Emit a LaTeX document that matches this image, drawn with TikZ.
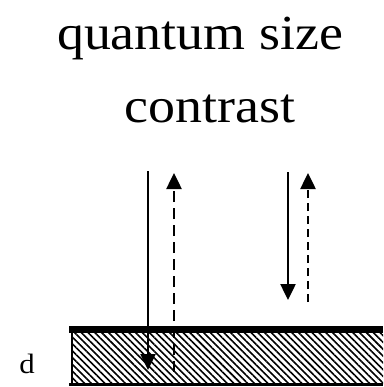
\documentclass[tikz,border=0pt]{standalone}
\usepackage{fontspec}
\setmainfont[FakeStretch=1.1]{Liberation Serif}
\usetikzlibrary{arrows.meta,patterns.meta}
\begin{document}
\begin{tikzpicture}[x=1pt,y=-1pt,
  title/.style={inner sep=0pt,anchor=base,font=\fontsize{49}{49}\selectfont},
  solidray/.style={line width=2.5pt,-{Triangle[length=16pt,width=15pt]}},
  dashray/.style={line width=2.5pt,dash pattern=on 11pt off 6pt,-{Triangle[length=16pt,width=15pt]}},
  dashrayb/.style={line width=2.5pt,dash pattern=on 8pt off 5pt,-{Triangle[length=16pt,width=15pt]}},
  ]
\useasboundingbox (0,0) rectangle (383,387);
\node[title] (t1) at (200,50) {quantum size};
\node[title] (t2) at (210,123) {contrast};
% slab
\fill[pattern={Lines[angle=-45,distance=4.8pt,line width=1.6pt]}] (72,333) rectangle (383,384);
\draw[line width=1.6pt] (72,333) -- (72,384);
\fill (69,326) rectangle (383,333);
\fill (69,383) rectangle (383,386);
\node[inner sep=0pt,anchor=base,font=\fontsize{28}{28}\selectfont] (d) at (27,373) {d};
% rays
\coordinate (a1s) at (148,171);
\coordinate (a1e) at (148,370);
\coordinate (b1s) at (174,372);
\coordinate (b1e) at (174,173);
\coordinate (a2s) at (288,172);
\coordinate (a2e) at (288,300);
\coordinate (b2s) at (308,302);
\coordinate (b2e) at (308,173);
\draw[solidray] (a1s) -- (a1e);
\draw[dashray] (b1s) -- (b1e);
\draw[solidray] (a2s) -- (a2e);
\draw[dashrayb] (b2s) -- (b2e);
\end{tikzpicture}
\end{document}
